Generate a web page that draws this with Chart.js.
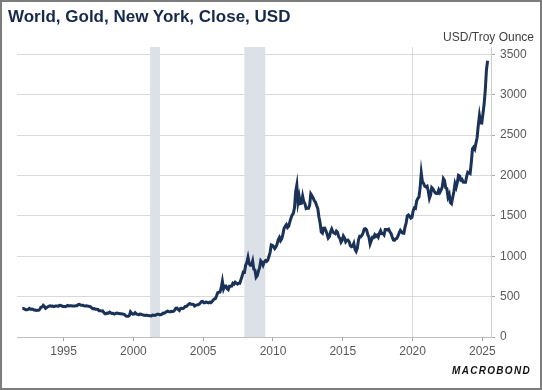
<!DOCTYPE html>
<html lang="en">
<head>
<meta charset="UTF-8">
<title>World, Gold, New York, Close, USD</title>
<style>
    body { margin: 0; background: #fff; }
    #wrap { position: relative; width: 542px; height: 390px; font-family: "Liberation Sans", Arial, sans-serif; }
    #frame { position: absolute; left: 0; top: 0; width: 538px; height: 386px; border: 2px solid #7d7d7d; pointer-events: none; }
    #title { position: absolute; left: 8px; top: 7px; font-size: 17px; font-weight: bold; color: #16294a; white-space: nowrap; }
    #unit { position: absolute; right: 8px; top: 30px; font-size: 12px; color: #404040; }
    #logo { position: absolute; right: 11px; top: 365px; font-size: 10px; font-weight: bold; font-style: italic; letter-spacing: 1.3px; color: #111; }
    canvas { position: absolute; left: 0; top: 0; }
</style>
</head>
<body>
<div id="wrap">
    <canvas id="chart" width="542" height="390"></canvas>
    <div id="title">World, Gold, New York, Close, USD</div>
    <div id="unit">USD/Troy Ounce</div>
    <div id="logo">MACROBOND</div>
    <div id="frame"></div>
</div>

<script src="https://cdn.jsdelivr.net/npm/chart.js"></script>
<script>
// monthly gold prices, USD per troy ounce, starting Jan 1992
const startYear = 1992;
const gold = [
    354, 354, 345, 338, 337, 341, 353, 343, 345, 344, 335, 334,   // 1992
    329, 330, 330, 342, 367, 371, 392, 379, 355, 365, 374, 383,   // 1993
    387, 382, 384, 377, 381, 385, 385, 380, 391, 389, 384, 379,   // 1994
    379, 376, 382, 391, 385, 387, 386, 383, 383, 383, 386, 387,   // 1995
    400, 405, 396, 393, 392, 385, 383, 387, 383, 381, 378, 369,   // 1996
    355, 347, 352, 344, 344, 341, 324, 324, 323, 325, 306, 289,   // 1997
    289, 297, 296, 308, 299, 292, 293, 284, 289, 296, 294, 291,   // 1998
    287, 288, 286, 282, 276, 261, 256, 257, 265, 311, 293, 283,   // 1999
    284, 300, 286, 280, 275, 285, 282, 274, 273, 270, 266, 272,   // 2000
    266, 262, 263, 261, 272, 270, 268, 273, 283, 283, 276, 276,   // 2001
    282, 296, 294, 302, 314, 321, 314, 310, 319, 317, 319, 333,   // 2002
    357, 359, 340, 328, 355, 356, 351, 360, 379, 379, 390, 407,   // 2003
    414, 405, 406, 404, 384, 392, 398, 400, 406, 420, 439, 442,   // 2004
    424, 423, 434, 429, 422, 430, 424, 437, 456, 470, 476, 510,   // 2005
    549, 555, 557, 610, 690, 596, 633, 632, 598, 586, 628, 629,   // 2006
    631, 665, 655, 679, 667, 655, 665, 665, 712, 754, 806, 803,   // 2007
    889, 922, 985, 909, 888, 889, 939, 839, 829, 740, 760, 816,   // 2008
    858, 943, 924, 890, 928, 946, 934, 949, 996, 1043, 1140, 1135, // 2009
    1118, 1095, 1114, 1148, 1205, 1233, 1193, 1215, 1271, 1343, 1370, 1391, // 2010
    1356, 1372, 1424, 1473, 1510, 1529, 1600, 1800, 1880, 1665, 1739, 1652, // 2011
    1656, 1743, 1675, 1649, 1591, 1596, 1594, 1630, 1770, 1747, 1721, 1688, // 2012
    1671, 1627, 1593, 1485, 1414, 1300, 1286, 1347, 1349, 1316, 1275, 1225, // 2013
    1244, 1300, 1336, 1299, 1287, 1279, 1311, 1296, 1239, 1222, 1176, 1200, // 2014
    1251, 1227, 1179, 1198, 1199, 1181, 1131, 1117, 1125, 1159, 1086, 1060, // 2015
    1097, 1200, 1246, 1242, 1260, 1290, 1337, 1341, 1326, 1267, 1236, 1152, // 2016
    1192, 1234, 1231, 1266, 1246, 1260, 1236, 1283, 1315, 1280, 1283, 1265, // 2017
    1331, 1331, 1325, 1335, 1303, 1282, 1238, 1202, 1198, 1215, 1221, 1250, // 2018
    1291, 1320, 1301, 1286, 1284, 1360, 1413, 1500, 1510, 1495, 1471, 1480, // 2019
    1560, 1597, 1591, 1683, 1715, 1732, 1847, 2030, 1921, 1900, 1866, 1858, // 2020
    1867, 1808, 1718, 1760, 1850, 1834, 1807, 1785, 1777, 1777, 1821, 1790, // 2021
    1817, 1856, 1960, 1937, 1849, 1837, 1733, 1765, 1665, 1650, 1726, 1798, // 2022
    1898, 1855, 1913, 2000, 1992, 1943, 1951, 1918, 1916, 1916, 1985, 2040, // 2023
    2033, 2024, 2160, 2330, 2350, 2326, 2398, 2470, 2620, 2740, 2650, 2648, // 2024
    2760, 2880, 3050, 3300, 3420                                         // 2025
];

// US recession periods (decimal years)
const recessions = [[2001.2, 2001.9], [2007.95, 2009.45]];

const yearTicks = [1995, 2000, 2005, 2010, 2015, 2020, 2025];
const valueTicks = [0, 500, 1000, 1500, 2000, 2500, 3000, 3500];

const points = gold.map((v, i) => ({ x: startYear + (i + 0.5) / 12, y: v }));

const bandPlugin = {
    id: 'bands',
    beforeDatasetsDraw(chart) {
        const { ctx, chartArea, scales } = chart;
        ctx.save();
        ctx.fillStyle = '#dce0e7';
        recessions.forEach(r => {
            const x1 = scales.x.getPixelForValue(r[0]);
            const x2 = scales.x.getPixelForValue(r[1]);
            ctx.fillRect(x1, chartArea.top, x2 - x1, chartArea.bottom - chartArea.top);
        });
        ctx.restore();
    }
};

new Chart(document.getElementById('chart'), {
    type: 'line',
    data: {
        datasets: [{
            data: points,
            borderColor: '#1a3158',
            borderWidth: 3,
            pointRadius: 0,
            tension: 0,
            fill: false
        }]
    },
    options: {
        responsive: false,
        animation: false,
        layout: { padding: { left: 17, top: 47, right: 0, bottom: 0 } },
        plugins: { legend: { display: false }, tooltip: { enabled: false } },
        scales: {
            x: {
                type: 'linear',
                min: 1991.66,
                max: 2025.62,
                afterBuildTicks: s => { s.ticks = yearTicks.map(v => ({ value: v })); },
                afterFit: s => { s.height = 53; },
                grid: {
                    color: c => (c.tick && c.tick.value === 2020) ? '#d9d9d9' : 'rgba(0,0,0,0)',
                    tickColor: '#a6a6a6',
                    tickLength: 4,
                    drawOnChartArea: true
                },
                border: { color: '#bfbfbf' },
                ticks: {
                    color: '#595959',
                    font: { family: '"Liberation Sans", Arial, sans-serif', size: 12 },
                    padding: 3,
                    maxRotation: 0,
                    callback: v => String(v)
                }
            },
            y: {
                position: 'right',
                min: 0,
                max: 3590,
                afterBuildTicks: s => { s.ticks = valueTicks.map(v => ({ value: v })); },
                afterFit: s => { s.width = 51; },
                grid: {
                    color: '#d9d9d9',
                    tickColor: '#a6a6a6',
                    tickLength: 4
                },
                border: { color: '#d0d0d0' },
                ticks: {
                    color: '#595959',
                    font: { family: '"Liberation Sans", Arial, sans-serif', size: 12 },
                    padding: 5,
                    callback: v => String(v)
                }
            }
        }
    },
    plugins: [bandPlugin]
});
</script>
</body>
</html>
